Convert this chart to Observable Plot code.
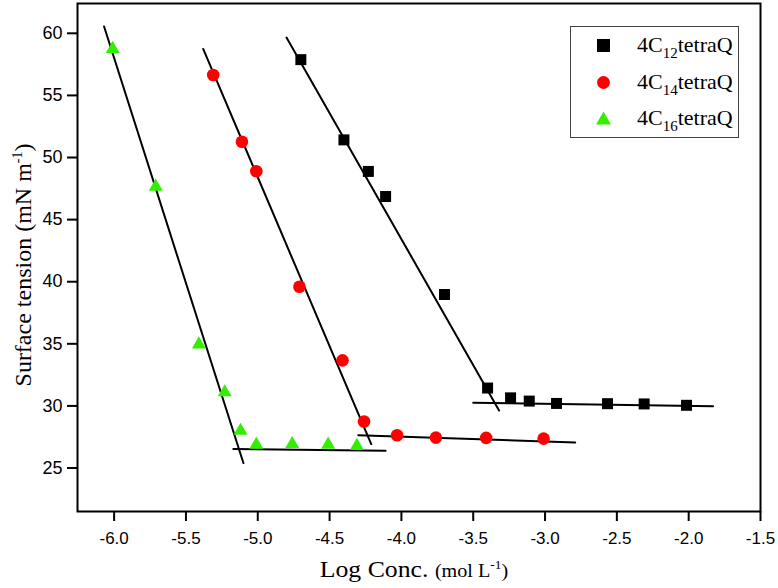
<!DOCTYPE html>
<html>
<head>
<meta charset="utf-8">
<script src="https://cdn.jsdelivr.net/npm/d3@7"></script>
<script src="https://cdn.jsdelivr.net/npm/@observablehq/plot@0.6"></script>
<style>
  html, body { margin: 0; padding: 0; background: #fff; }
  #wrap { position: relative; width: 778px; height: 588px; }
  #legend { position: absolute; left: 570px; top: 26px; width: 167px; height: 110px;
    border: 1.5px solid #444; background: #fff; font-family: "Liberation Serif", "Times New Roman", serif; font-size: 22px; }
  .row { position: absolute; left: 0; height: 30px; width: 100%; }
  .row svg { position: absolute; left: 23px; top: 5px; }
  .row span { position: absolute; left: 66px; top: 1px; white-space: nowrap; line-height: 26px; }
  .row sub { font-size: 15px; vertical-align: -6px; line-height: 0; }
</style>
</head>
<body>
<div id="wrap"></div>
<script>
// ---- data ----
const seriesNames = ["4C12tetraQ", "4C14tetraQ", "4C16tetraQ"];
const seriesColors = ["#000000", "#ff0000", "#33ee00"];

const c12X = [-4.70, -4.40, -4.23, -4.11, -3.70, -3.40, -3.24, -3.11, -2.92, -2.565, -2.31, -2.015];
const c12Y = [57.88, 51.42, 48.88, 46.86, 38.97, 31.44, 30.65, 30.39, 30.20, 30.18, 30.16, 30.05];

const c14X = [-5.31, -5.11, -5.01, -4.71, -4.41, -4.26, -4.03, -3.76, -3.41, -3.01];
const c14Y = [56.64, 51.27, 48.90, 39.60, 33.67, 28.75, 27.64, 27.45, 27.43, 27.37];

const c16X = [-6.01, -5.71, -5.41, -5.23, -5.12, -5.01, -4.76, -4.51, -4.31];
const c16Y = [58.75, 47.65, 34.95, 31.10, 28.00, 26.88, 26.93, 26.88, 26.78];

// fitted straight lines (end points)
const c12SteepX = [-4.80, -3.32], c12SteepY = [59.66, 29.63];
const c12FlatX = [-3.50, -1.83], c12FlatY = [30.26, 29.97];
const c14SteepX = [-5.38, -4.21], c14SteepY = [58.74, 26.93];
const c14FlatX = [-4.30, -2.79], c14FlatY = [27.64, 27.06];
const c16SteepX = [-6.07, -5.10], c16SteepY = [60.55, 25.40];
const c16FlatX = [-5.17, -4.11], c16FlatY = [26.54, 26.40];

const xTicks = [-6.0, -5.5, -5.0, -4.5, -4.0, -3.5, -3.0, -2.5, -2.0, -1.5];
const yTicks = [25, 30, 35, 40, 45, 50, 55, 60];

// ---- build tables ----
const pts = (xs, ys, s) => xs.map((x, i) => ({x, y: ys[i], s}));
const p12 = pts(c12X, c12Y, seriesNames[0]);
const p14 = pts(c14X, c14Y, seriesNames[1]);
const p16 = pts(c16X, c16Y, seriesNames[2]);
const fitLines = [
  [c12SteepX, c12SteepY], [c12FlatX, c12FlatY],
  [c14SteepX, c14SteepY], [c14FlatX, c14FlatY],
  [c16SteepX, c16SteepY], [c16FlatX, c16FlatY]
].flatMap(([xs, ys], k) => xs.map((x, i) => ({x, y: ys[i], k})));

const plot = Plot.plot({
  width: 778,
  height: 588,
  marginLeft: 77,
  marginRight: 18,
  marginTop: 3,
  marginBottom: 77,
  style: {fontFamily: "'Liberation Sans', Arial, sans-serif", fontSize: "17px", background: "#fff", color: "#000"},
  x: {domain: [-6.255, -1.5]},
  y: {domain: [21.5, 62.4]},
  marks: [
    Plot.axisX({ticks: xTicks, tickSize: 10, tickPadding: 10, strokeWidth: 2, tickFormat: d => d.toFixed(1), label: null, fontSize: 17}),
    Plot.axisY({ticks: yTicks, tickSize: 10, tickPadding: 5, strokeWidth: 2, tickFormat: d => String(d), label: null, fontSize: 18}),
    Plot.line(fitLines, {x: "x", y: "y", z: "k", stroke: "#000", strokeWidth: 2}),
    Plot.dot(p16, {x: "x", y: "y", symbol: "triangle", r: 5.2, fill: seriesColors[2], stroke: "none"}),
    Plot.dot(p14, {x: "x", y: "y", symbol: "circle", r: 6.3, fill: seriesColors[1], stroke: "none"}),
    Plot.dot(p12, {x: "x", y: "y", symbol: "square", r: 6.2, fill: seriesColors[0], stroke: "none"}),
    Plot.frame({stroke: "#000", strokeWidth: 2})
  ]
});

const svg = d3.select(plot);
// axis titles with superscripts
const xt = svg.append("text")
  .attr("transform", "translate(414,577) scale(1.12,1)").attr("text-anchor", "middle")
  .attr("font-family", "'Liberation Serif', 'Times New Roman', serif").attr("fill", "#000");
xt.append("tspan").attr("font-size", 23).text("Log Conc. ");
xt.append("tspan").attr("font-size", 18).text("(mol L");
xt.append("tspan").attr("font-size", 12).attr("dy", -8).text("-1");
xt.append("tspan").attr("font-size", 18).attr("dy", 8).text(")");

const yt = svg.append("text")
  .attr("transform", "translate(31,265) rotate(-90)").attr("text-anchor", "middle")
  .attr("font-family", "'Liberation Serif', 'Times New Roman', serif").attr("fill", "#000").attr("font-size", 24);
yt.append("tspan").text("Surface tension (mN m");
yt.append("tspan").attr("font-size", 14).attr("dy", -9).text("-1");
yt.append("tspan").attr("dy", 9).text(")");

const wrap = document.getElementById("wrap");
wrap.appendChild(plot);

// legend
const legend = document.createElement("div");
legend.id = "legend";
const shapes = [
  c => `<rect x="3" y="3" width="13" height="13" fill="${c}"/>`,
  c => `<circle cx="9.5" cy="9.5" r="6.5" fill="${c}"/>`,
  c => `<path d="M9.5,2.5 L17,15.5 L2,15.5 Z" fill="${c}"/>`
];
const subs = ["12", "14", "16"];
seriesNames.forEach((name, i) => {
  const row = document.createElement("div");
  row.className = "row";
  row.style.top = (4 + i * 36.5) + "px";
  row.innerHTML = `<svg width="19" height="19">${shapes[i](seriesColors[i])}</svg><span>4C<sub>${subs[i]}</sub>tetraQ</span>`;
  legend.appendChild(row);
});
wrap.appendChild(legend);
</script>
</body>
</html>
